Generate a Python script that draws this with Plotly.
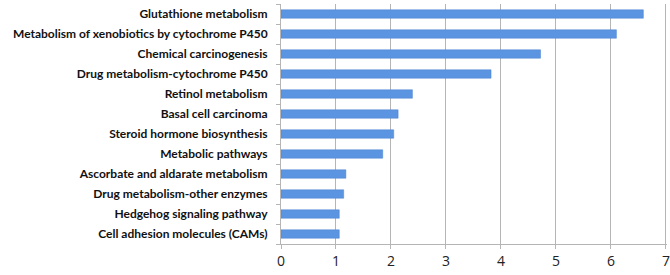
import plotly.graph_objects as go

categories = [
    "Glutathione metabolism",
    "Metabolism of xenobiotics by cytochrome P450",
    "Chemical carcinogenesis",
    "Drug metabolism-cytochrome P450",
    "Retinol metabolism",
    "Basal cell carcinoma",
    "Steroid hormone biosynthesis",
    "Metabolic pathways",
    "Ascorbate and aldarate metabolism",
    "Drug metabolism-other enzymes",
    "Hedgehog signaling pathway",
    "Cell adhesion molecules (CAMs)",
]
values = [6.59, 6.10, 4.72, 3.82, 2.39, 2.13, 2.05, 1.85, 1.18, 1.14, 1.06, 1.06]
x_ticks = [0, 1, 2, 3, 4, 5, 6, 7]

fig = go.Figure(go.Bar(
    x=values,
    y=categories,
    orientation="h",
    marker=dict(color="#5b94e0", line=dict(color="#4a82d0", width=0.5)),
))

fig.update_layout(
    width=670, height=275,
    margin=dict(l=281, r=3, t=4, b=31),
    paper_bgcolor="white", plot_bgcolor="white",
    bargap=0.58,
    showlegend=False,
    font=dict(family="Lato", color="#111"),
)
fig.update_xaxes(
    range=[0, 7.02], tickvals=x_ticks, ticktext=[str(v) for v in x_ticks],
    showgrid=True, gridcolor="#b5b5b5", gridwidth=1,
    showline=True, linecolor="#b5b5b5", linewidth=1,
    ticks="outside", ticklen=4, tickcolor="#b5b5b5",
    tickfont=dict(size=14, family="Open Sans", color="#222"),
    zeroline=False, automargin=False, ticklabeloverflow="allow",
)
fig.update_yaxes(
    categoryorder="array", categoryarray=categories[::-1],
    autorange=False, range=[-0.5, len(categories) - 0.5],
    showline=True, linecolor="#b5b5b5", linewidth=1,
    ticks="outside", ticklen=4, tickcolor="#b5b5b5", tickson="boundaries",
    tickfont=dict(size=12, family="Lato", color="#111", weight="bold"),
    ticklabelstandoff=10,
    showgrid=False, automargin=False,
)

fig.write_html(
    "out.html",
    config={"displayModeBar": False},
    post_script="document.body.style.margin='0';document.body.style.overflow='hidden';",
)
